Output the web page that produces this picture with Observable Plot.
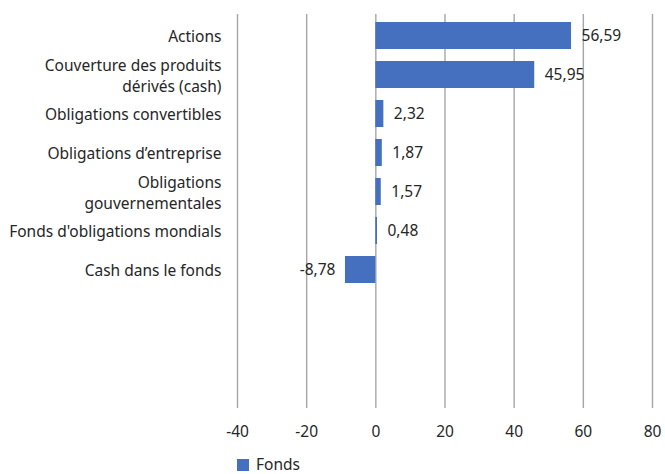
<!DOCTYPE html>
<html><head><meta charset="utf-8">
<script src="https://cdn.jsdelivr.net/npm/d3@7"></script>
<script src="https://cdn.jsdelivr.net/npm/@observablehq/plot@0.6"></script>
<style>
body{margin:0;background:#fff;font-family:"Noto Sans",sans-serif;color:#262626;}
#chart svg{display:block;}
#legend{display:flex;align-items:center;margin:9px 0 0 237px;font-size:15.5px;line-height:15px;}
#legend .sw{width:12px;height:12px;margin-right:7px;}
</style></head><body>
<div id="chart"></div>
<div id="legend"></div>
<script>
const categories = ["Actions","Couverture des produits\ndérivés (cash)","Obligations convertibles","Obligations d’entreprise","Obligations\ngouvernementales","Fonds d'obligations mondials","Cash dans le fonds"];
const values = [56.59,45.95,2.32,1.87,1.57,0.48,-8.78];
const xTicks = [-40,-20,0,20,40,60,80];
const emptySlots = ["_e1","_e2","_e3"];
const seriesName = "Fonds";
const barColor = "#4470bf";
const ink = "#262626";

const data = categories.map((c,i)=>({category:c,value:values[i]}));
const fmt = v => v.toFixed(2).replace(".",",");

const plot = Plot.plot({
  width:665, height:448,
  marginLeft:237, marginRight:13, marginTop:14, marginBottom:40,
  style:{fontFamily:"'Noto Sans',sans-serif", fontSize:"15.5px", color:ink, background:"#fff"},
  x:{domain:[-40,80], label:null},
  y:{domain:[...categories,...emptySlots], paddingInner:0.31, paddingOuter:0.155, label:null, axis:null},
  marks:[
    Plot.ruleX(xTicks,{stroke:"#a6a6a6", strokeWidth:1.4}),
    Plot.barX(data,{x:"value", y:"category", fill:barColor}),
    Plot.axisX({ticks:xTicks, tickSize:0, tickPadding:17, fontSize:15.5, fill:ink, label:null, tickFormat:d=>String(d)}),
    Plot.text(categories,{y:d=>d, text:d=>d, frameAnchor:"left", textAnchor:"end", lineAnchor:"middle", lineHeight:1.3, dx:-16, fontSize:15.5, fill:ink}),
    Plot.text(data,{filter:d=>d.value>=0, x:"value", y:"category", text:d=>fmt(d.value), textAnchor:"start", dx:10, fontSize:15.5, fill:ink}),
    Plot.text(data,{filter:d=>d.value<0, x:"value", y:"category", text:d=>fmt(d.value), textAnchor:"end", dx:-10, fontSize:15.5, fill:ink})
  ]
});
document.getElementById("chart").append(plot);
document.getElementById("legend").innerHTML = `<div class="sw" style="background:${barColor}"></div><span>${seriesName}</span>`;
</script>
</body></html>
